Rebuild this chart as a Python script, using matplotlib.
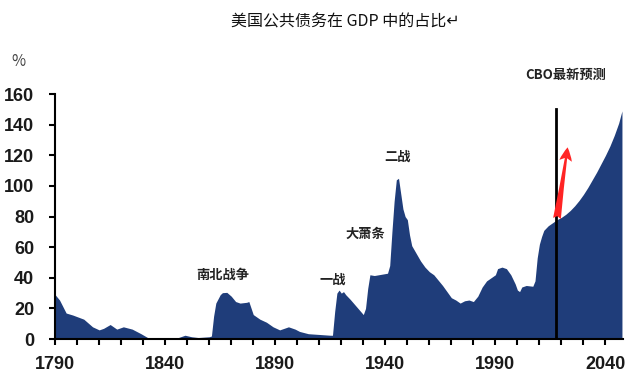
import matplotlib
matplotlib.use("Agg")
import matplotlib.pyplot as plt

plt.rcParams['font.family'] = ['Noto Sans CJK SC', 'DejaVu Sans']

# debt held by the public, % of GDP
years = [1790, 1792, 1795, 1798, 1803, 1807, 1810, 1812, 1815, 1818, 1821, 1825,
         1829, 1832, 1835, 1840, 1843, 1846, 1849, 1852, 1855, 1860, 1861, 1862,
         1863, 1865, 1866, 1868, 1870, 1872, 1874, 1877, 1878, 1880, 1883, 1886,
         1889, 1892, 1896, 1899, 1901, 1905, 1910, 1915, 1916, 1917, 1918, 1919,
         1920, 1921, 1922, 1924, 1927, 1930, 1931, 1932, 1933, 1935, 1937, 1939,
         1941, 1942, 1943, 1944, 1945, 1946, 1947, 1948, 1949, 1950, 1951, 1952,
         1954, 1956, 1958, 1960, 1962, 1964, 1966, 1968, 1970, 1972, 1974, 1976,
         1978, 1980, 1982, 1984, 1986, 1988, 1990, 1991, 1993, 1995, 1997, 1999,
         2000, 2001, 2002, 2004, 2007, 2008, 2009, 2010, 2011, 2012, 2014, 2016,
         2017, 2018, 2020, 2022, 2024, 2026, 2028, 2030, 2032, 2034, 2036, 2038,
         2040, 2042, 2044, 2046, 2047.5]
debt = [29, 25.5, 17, 15.7, 13, 8, 6, 7, 9.5, 6.5, 8, 6.5,
        3.5, 1, 0, 0.5, 1, 1, 2.5, 1.5, 1, 1.5, 2, 15,
        23.5, 29, 30.3, 30.5, 28, 24.5, 23.5, 24, 24.5, 16, 13, 11,
        8, 6, 8, 6.5, 5, 3.5, 3, 2.5, 2.5, 18, 30, 32,
        30, 31, 29, 26, 21, 16, 20, 33, 42, 41.5, 42, 42.5,
        43, 48, 70, 90, 104, 105, 95, 85, 80, 78, 68, 61,
        56, 51, 47, 44, 42, 38.5, 35, 31, 27, 25.5, 23.5, 25,
        25.5, 24.5, 28, 34, 38, 40, 42, 46, 47, 46, 42, 36,
        32, 31, 34, 35, 34.5, 38, 53, 62, 67, 71, 74, 76,
        77, 78, 79.5, 81.5, 84, 87, 90.5, 94.5, 99, 104, 109, 114.5,
        120, 126, 133, 141, 149]

events = ['南北战争', '一战', '大萧条', '二战']
event_x = [1866, 1916, 1931, 1945.5]
event_y = [42, 38.5, 69, 119]

cbo_year = 2017.5

fig = plt.figure(figsize=(6.41, 3.84), dpi=100)
ax = fig.add_axes([0.086, 0.117, 0.886, 0.638])

ax.fill_between(years, debt, 0, color='#1f3d7a', linewidth=0)
ax.plot([cbo_year, cbo_year], [0, 150], color='black', lw=2)
ax.annotate('', xy=(2023, 127), xytext=(2017.8, 77),
            arrowprops=dict(arrowstyle='fancy,head_length=0.7,head_width=0.65,tail_width=0.4',
                            color='#ff2424', lw=0, mutation_scale=14))

for name, x, y in zip(events, event_x, event_y):
    ax.text(x, y, name, ha='center', va='center', fontsize=9.5,
            fontweight='bold', color='#222222')
ax.text(2022, 172.5, 'CBO最新预测', ha='center', va='center', fontsize=9.5,
        fontweight='bold', color='#222222', clip_on=False)

ax.set_xlim(1790, 2048)
ax.set_ylim(0, 160)
ax.set_xticks(range(1790, 2050, 10))
ax.set_xticklabels([str(v) if (v - 1790) % 50 == 0 else '' for v in range(1790, 2050, 10)])
ax.set_yticks(range(0, 161, 20))

for s in ['top', 'right']:
    ax.spines[s].set_visible(False)
for s in ['left', 'bottom']:
    ax.spines[s].set_linewidth(1.5)
ax.tick_params(axis='x', direction='out', length=4.5, width=1.5, pad=8)
ax.tick_params(axis='y', direction='out', length=4, width=1.5, pad=11)
for lab in ax.get_xticklabels() + ax.get_yticklabels():
    lab.set_fontfamily('Liberation Sans')
    lab.set_fontsize(13)
    lab.set_fontweight('bold')
    lab.set_color('#1a1a1a')

fig.text(18 / 641, 1 - 62 / 384, '%', ha='center', va='center', fontsize=11, color='#444444')
fig.text(345 / 641, 1 - 22 / 384, '美国公共债务在 GDP 中的占比↵', ha='center', va='center',
         fontsize=11.5, color='#111111')

fig.savefig('out.png', dpi=100)
